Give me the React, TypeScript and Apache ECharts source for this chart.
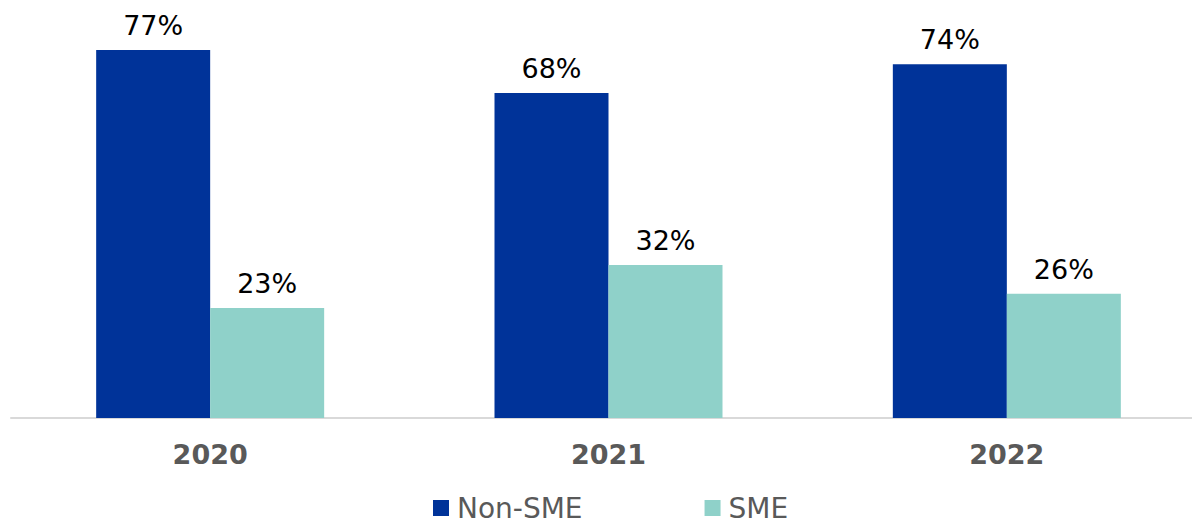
import React, { useEffect, useRef } from "react";
import * as echarts from "echarts";

const categories = ["2020", "2021", "2022"];
const nonSme = [77, 68, 74];
const sme = [23, 32, 26];
const seriesNames = ["Non-SME", "SME"];

export default function App() {
  const ref = useRef<HTMLDivElement>(null);
  useEffect(() => {
    document.body.style.margin = "0";
    document.body.style.overflow = "hidden";
    const chart = echarts.init(ref.current!, null, { renderer: "svg" });
    const font = "'DejaVu Sans', Verdana, sans-serif";
    const label = {
      show: true,
      position: "top" as const,
      distance: 11,
      formatter: "{c}%",
      color: "#000000",
      fontSize: 27,
      fontFamily: font,
    };
    chart.setOption({
      animation: false,
      backgroundColor: "#ffffff",
      grid: { left: 11, right: 0, top: 35.7, bottom: 106 },
      legend: {
        bottom: 2,
        left: 433,
        itemWidth: 16,
        itemHeight: 16,
        itemGap: 122,
        icon: "rect",
        padding: 0,
        textStyle: {
          color: "#595959",
          fontSize: 28,
          lineHeight: 22,
          fontFamily: font,
          padding: [0, 0, 0, 3],
        },
        data: seriesNames,
      },
      xAxis: {
        type: "category",
        data: categories,
        axisLine: { lineStyle: { color: "#d9d9d9", width: 2 } },
        axisTick: { show: false },
        axisLabel: {
          color: "#595959",
          fontSize: 27,
          fontWeight: "bold",
          fontFamily: font,
          margin: 23,
        },
      },
      yAxis: {
        type: "value",
        min: 0,
        max: 80,
        show: false,
        splitLine: { show: false },
      },
      series: [
        {
          name: seriesNames[0],
          type: "bar",
          data: nonSme,
          barWidth: 114,
          barGap: "0%",
          itemStyle: { color: "#003399" },
          label,
        },
        {
          name: seriesNames[1],
          type: "bar",
          data: sme,
          barWidth: 114,
          itemStyle: { color: "#8fd1c9" },
          label,
        },
      ],
    });
    return () => chart.dispose();
  }, []);
  return <div ref={ref} style={{ width: 1206, height: 524 }} />;
}
